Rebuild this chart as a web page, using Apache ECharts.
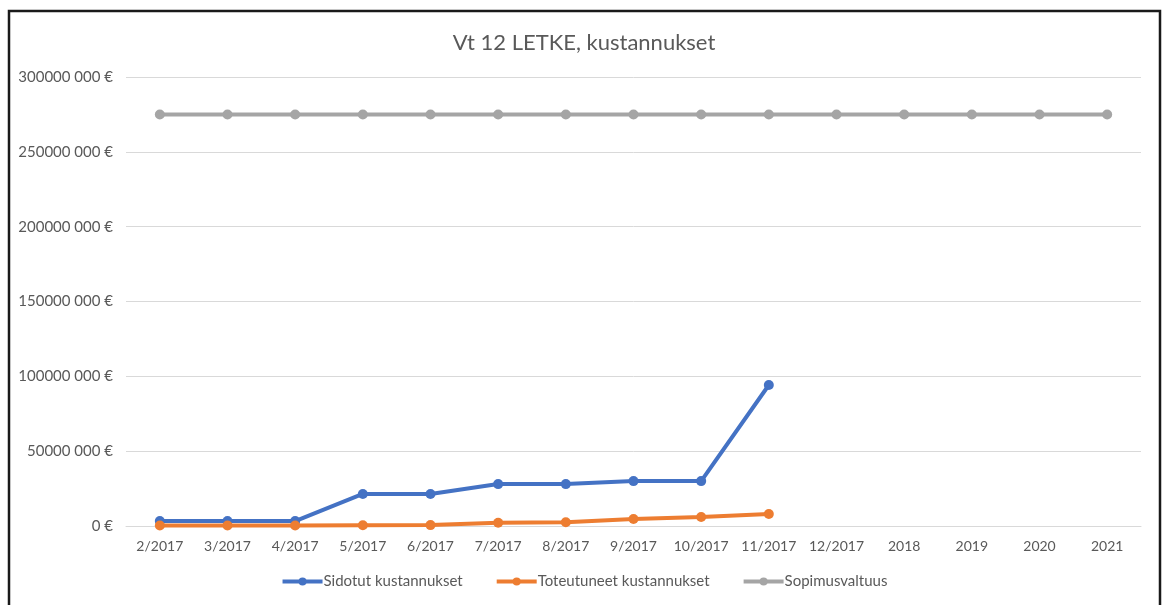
<!DOCTYPE html>
<html>
<head>
<meta charset="utf-8">
<script src="https://cdn.jsdelivr.net/npm/echarts@6/dist/echarts.min.js"></script>
<style>
  html, body { margin: 0; padding: 0; background: #fff; }
  #chart { width: 1168px; height: 605px; }
</style>
</head>
<body>
<div id="chart"></div>
<script>
const categories = ["2/2017", "3/2017", "4/2017", "5/2017", "6/2017", "7/2017", "8/2017", "9/2017",
  "10/2017", "11/2017", "12/2017", "2018", "2019", "2020", "2021"];
const sidotut = [3300000, 3300000, 3300000, 21400000, 21400000, 28000000, 28000000, 30000000, 30000000, 94200000];
const toteutuneet = [300000, 300000, 300000, 500000, 600000, 2200000, 2500000, 4700000, 6000000, 8000000];
const sopimusvaltuus = [275000000, 275000000, 275000000, 275000000, 275000000, 275000000, 275000000, 275000000,
  275000000, 275000000, 275000000, 275000000, 275000000, 275000000, 275000000];
const yTicks = { 0: "0 €", 50000000: "50000 000 €", 100000000: "100000 000 €", 150000000: "150000 000 €",
  200000000: "200000 000 €", 250000000: "250000 000 €", 300000000: "300000 000 €" };

const FONT = "Lato, 'Open Sans', sans-serif";
const TXT = "#595959";

function lineSeries(name, data, color) {
  return {
    name, type: "line", data,
    symbol: "circle", symbolSize: 10,
    lineStyle: { color, width: 4 },
    itemStyle: { color },
    emphasis: { disabled: true }
  };
}

echarts.init(document.getElementById("chart")).setOption({
  animation: false,
  textStyle: { fontFamily: FONT },
  title: {
    text: "Vt 12 LETKE, kustannukset", left: "center", top: 27,
    textStyle: { fontFamily: FONT, fontSize: 22, fontWeight: "normal", color: TXT }
  },
  grid: { left: 126, right: 27, top: 77, bottom: 79 },
  legend: {
    bottom: 11, left: "center", itemWidth: 40, itemHeight: 10, itemGap: 32,
    lineStyle: { width: 4 },
    textStyle: { fontFamily: FONT, fontSize: 15, color: TXT, padding: [0, 0, 0, -4] },
    data: ["Sidotut kustannukset", "Toteutuneet kustannukset", "Sopimusvaltuus"]
  },
  xAxis: {
    type: "category", data: categories, boundaryGap: true,
    axisLine: { lineStyle: { color: "#d9d9d9", width: 1 } },
    axisTick: { show: false },
    axisLabel: { color: TXT, fontSize: 14, margin: 13, fontFamily: FONT, interval: 0 }
  },
  yAxis: {
    type: "value", min: 0, max: 300000000, interval: 50000000,
    axisLine: { show: false }, axisTick: { show: false },
    splitLine: { lineStyle: { color: "#d9d9d9", width: 1 } },
    axisLabel: { color: TXT, fontSize: 15, margin: 13, fontFamily: FONT, formatter: v => yTicks[v] }
  },
  graphic: [{
    type: "rect", silent: true, z: 100,
    shape: { x: 9, y: 11, width: 1151, height: 610 },
    style: { fill: "none", stroke: "#1a1a1a", lineWidth: 2.5 }
  }],
  series: [
    lineSeries("Sidotut kustannukset", sidotut, "#4472C4"),
    lineSeries("Toteutuneet kustannukset", toteutuneet, "#ED7D31"),
    lineSeries("Sopimusvaltuus", sopimusvaltuus, "#A5A5A5")
  ]
});
</script>
</body>
</html>
